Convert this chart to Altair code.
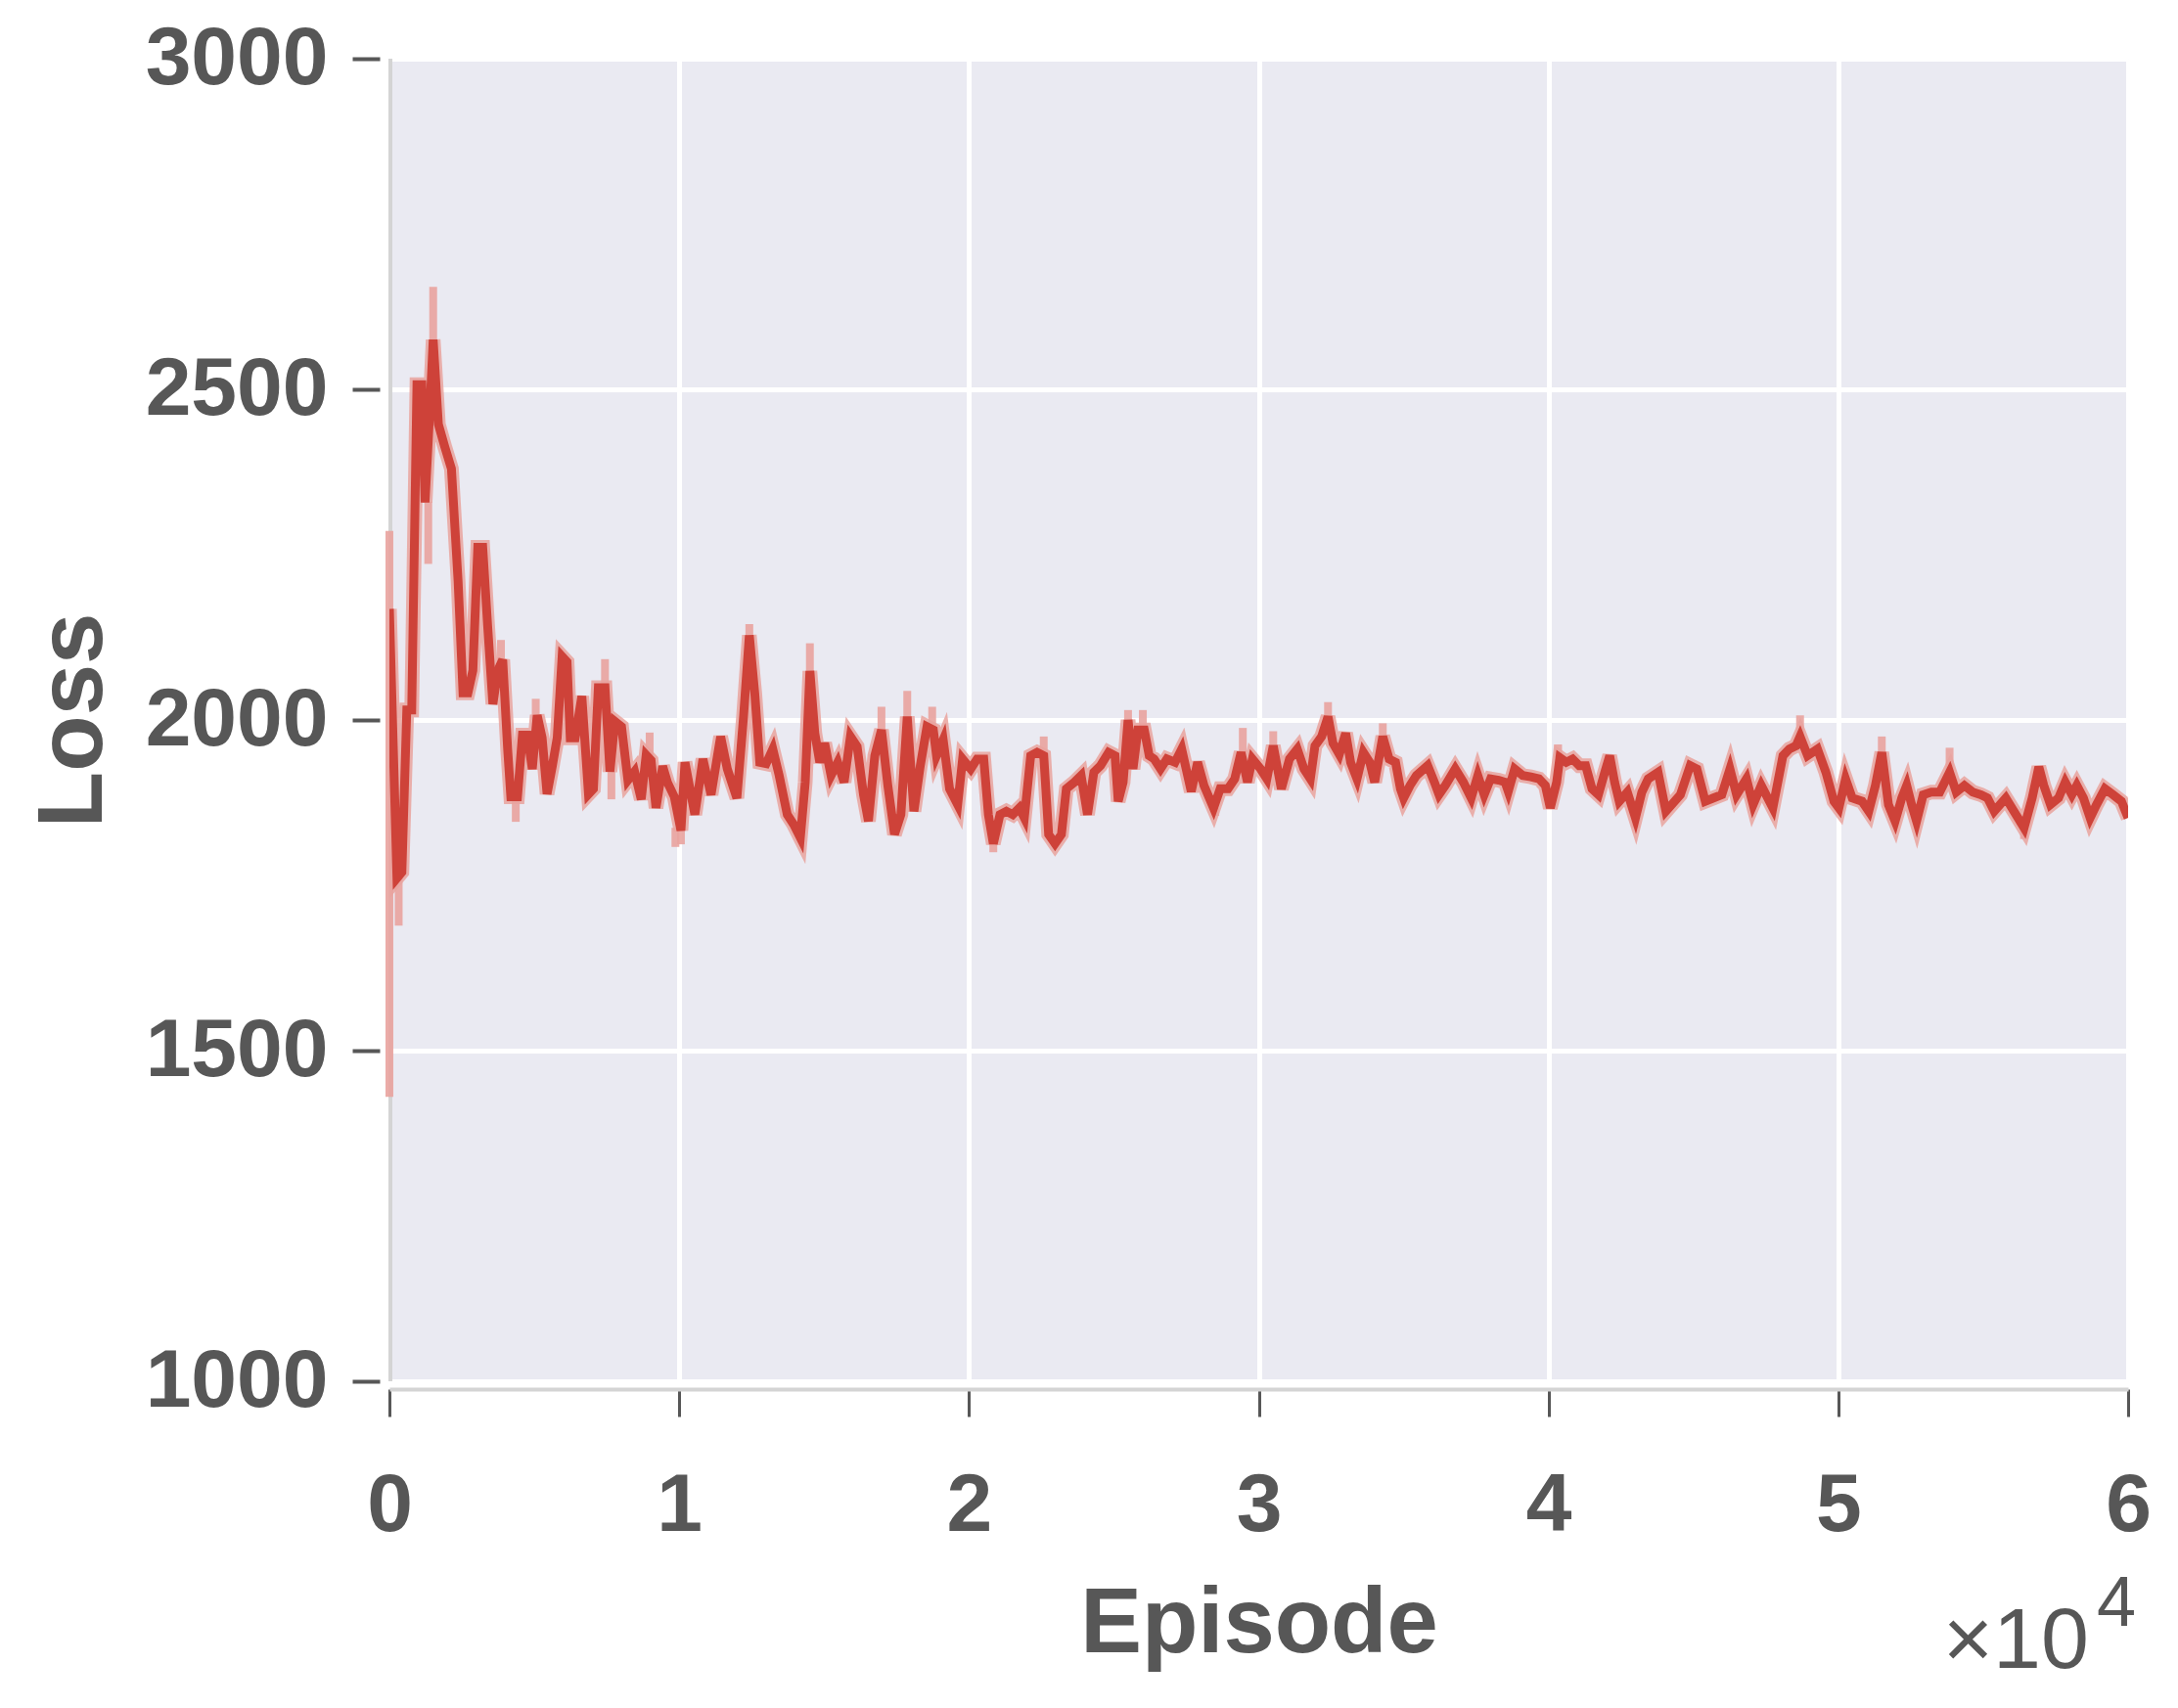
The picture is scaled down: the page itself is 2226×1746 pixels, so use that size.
import altair as alt
import pandas as pd

# ---- data ----
episode = [
    0, 260, 430, 600, 770, 950, 1120, 1230, 1400, 1510, 1690, 1910, 2140, 2370, 2540,
    2710, 2880, 3050, 3220, 3390, 3570, 3740, 3910, 4080, 4190, 4420, 4590, 4760, 4930, 5100,
    5270, 5440, 5620, 5790, 5960, 6130, 6240, 6410, 6640, 6870, 7040, 7210, 7440, 7610, 7780,
    8010, 8230, 8460, 8690, 8860, 9030, 9200, 9430, 9600, 9830, 10060,
    10200, 10540, 10820, 11100, 11430, 11660, 11990, 12220, 12420, 12610,
    12780, 13000, 13230, 13450, 13730, 13950, 14180, 14350, 14510, 14680,
    14850, 15020, 15240, 15470, 15690, 15910, 16140, 16360, 16530, 16750,
    16980, 17200, 17430, 17650, 17870, 18100, 18320, 18550, 18770, 18880,
    19110, 19330, 19610, 19780, 20060, 20280, 20510, 20670, 20840, 21070,
    21290, 21510, 21740, 21910, 22130, 22350, 22580, 22750, 22970, 23190,
    23360, 23640, 23870, 24090, 24310, 24540, 24820, 25040, 25150, 25320,
    25490, 25660, 25830, 26050, 26220, 26390, 26610, 26830, 27110, 27340,
    27670, 27890, 28110, 28440, 28670, 28940, 29170, 29390, 29610, 29780,
    30060, 30280, 30500, 30780, 31060, 31330, 31560, 31780, 31940, 32170,
    32390, 32560, 32780, 33000, 33170, 33390, 33610, 33830, 34000, 34280,
    34500, 34720, 34890, 35000, 35220, 35440, 35830, 36060, 36220, 36440,
    36780, 37060, 37330, 37560, 37780, 38000, 38280, 38500, 38610, 38830,
    39110, 39390, 39670, 39890, 40060, 40280, 40390, 40610, 40830, 41060,
    41280, 41500, 41720, 41940, 42110, 42280, 42440, 42720, 43000, 43220,
    43440, 43780, 44050,
    44550, 44890, 45120, 45410, 45690, 45980, 46260, 46490, 46830, 47060,
    47340, 47740, 48090, 48310, 48540, 48680, 48940, 49280, 49570, 49850,
    50020, 50250, 50480, 50820, 51050, 51280, 51500, 51730, 51960, 52190,
    52360, 52530, 52700, 52930, 53210, 53500, 53840, 54070, 54350, 54640,
    54920, 55150, 55380, 55780, 56060, 56410, 56690, 56920, 57090, 57320,
    57600, 57830, 58060, 58230, 58460, 58690, 58910, 59200, 59480, 59770,
    60000,
]
loss = [
    2168, 1761, 1770, 2015, 2015, 2507, 2507, 2329, 2473, 2575, 2447, 2413, 2380, 2210, 2041,
    2041, 2075, 2261, 2261, 2142, 2024, 2075, 2091, 1956, 1884, 1884, 1977, 1977, 1926, 2007,
    1973, 1888, 1930, 1973, 2096, 2088, 1973, 1973, 2036, 1888, 1896, 2049, 2049, 1922, 1998,
    1990, 1909, 1922, 1880, 1947, 1939, 1867, 1930, 1905, 1884, 1833,
    1936, 1857, 1941, 1887, 1975, 1926, 1882, 2005, 2128, 2039,
    1936, 1934, 1956, 1916, 1857, 1842, 1822, 1906, 2074, 1980,
    1936, 1965, 1916, 1936, 1906, 1975, 1960, 1887, 1847, 1946,
    1985, 1901, 1827, 1857, 2005, 1862, 1931, 1990, 1985, 1946,
    1970, 1896, 1872, 1941, 1926, 1941, 1941, 1857, 1813, 1857,
    1862, 1857, 1867, 1852, 1946, 1951, 1946, 1827, 1813, 1827,
    1896, 1906, 1916, 1857, 1921, 1931, 1951, 1946, 1877, 1906,
    2000, 1926, 1985, 1985, 1946, 1941, 1926, 1941, 1936, 1956,
    1892, 1936, 1901, 1867, 1896, 1896, 1911, 1951, 1906, 1941,
    1926, 1911, 1961, 1896, 1941, 1956, 1926, 1911, 1961, 1975,
    2005, 1965, 1948, 1980, 1936, 1911, 1951, 1936, 1906, 1975,
    1941, 1936, 1896, 1882, 1901, 1916, 1931, 1906, 1887, 1901,
    1926, 1906, 1882, 1916, 1887, 1911, 1909, 1906, 1892, 1926,
    1916, 1914, 1911, 1901, 1867, 1906, 1943, 1936, 1941, 1931,
    1931, 1896, 1887, 1921, 1946, 1906, 1877, 1891, 1852, 1891,
    1911, 1921, 1862,
    1887, 1931, 1926, 1877, 1882, 1887, 1926, 1887, 1911, 1872,
    1901, 1867, 1946, 1956, 1961, 1975, 1946, 1956, 1921, 1877,
    1867, 1911, 1882, 1877, 1862, 1901, 1951, 1872, 1847, 1882,
    1901, 1872, 1847, 1887, 1891, 1891, 1921, 1891, 1901, 1891,
    1887, 1882, 1862, 1882, 1862, 1837, 1882, 1929, 1901, 1872,
    1882, 1906, 1887, 1901, 1882, 1852, 1872, 1896, 1887, 1877,
    1852,
]

# lighter variance spikes around the mean line
spike_ep = [0, 320, 1340, 1510, 3850, 4360, 5050, 7440, 7660, 8980, 10060, 9870,
            12420, 14510, 16980, 17870, 18730, 20840, 22580, 25490, 26000, 28500,
            29450, 30500, 32390, 34280, 40330, 43000, 48680, 51500, 53840, 56410]
spike_lo = [1430, 1689, 2236, 2575, 2075, 1846, 2000, 2049, 1880, 1947, 1812, 1808,
            2128, 2074, 1985, 2005, 1985, 1800, 1946, 2000, 1985, 1855,
            1951, 1961, 2005, 1975, 1943, 1837, 1975, 1951, 1921, 1820]
spike_hi = [2286, 1761, 2330, 2655, 2121, 1884, 2032, 2092, 1922, 1981, 1833, 1837,
            2145, 2116, 2020, 2044, 2020, 1813, 1975, 2015, 2015, 1867,
            1988, 1983, 2027, 1995, 1963, 1852, 2007, 1975, 1958, 1837]

x_ticks = [0, 10000, 20000, 30000, 40000, 50000, 60000]
y_ticks = [1000, 1500, 2000, 2500, 3000]

assert len(episode) == len(loss)

df = pd.DataFrame({"Episode": episode, "Loss": loss})
sp = pd.DataFrame({"Episode": spike_ep, "lo": spike_lo, "hi": spike_hi})

W, H = 1777, 1352
FONT = "Liberation Sans"
TXT = "#575757"
DARK = "#CE4239"
LIGHT = "#E9A39E"
BG = "#EAEAF2"

x_axis = alt.Axis(
    values=x_ticks, labelExpr="datum.value / 10000", title="Episode",
    offset=8, domainColor="#D4D4D4", domainWidth=4,
    tickColor=TXT, tickWidth=3, tickSize=28,
    labelPadding=50, labelFont=FONT, labelFontSize=84, labelFontWeight="bold",
    labelColor=TXT, labelFlush=False, labelOverlap=False, labelLimit=0,
    grid=True, gridColor="white", gridWidth=5,
    titleFont=FONT, titleFontSize=94, titleFontWeight="bold", titleColor=TXT,
    titleBaseline="alphabetic", titleY=268, titleX=W / 2,
)
y_axis = alt.Axis(
    values=y_ticks, format="d", title="Loss", offset=10, domain=False,
    tickColor=TXT, tickWidth=4, tickSize=28,
    labelPadding=25, labelFont=FONT, labelFontSize=84, labelFontWeight="bold",
    labelColor=TXT, labelFlush=False, labelOverlap=False, labelLimit=0,
    grid=True, gridColor="white", gridWidth=5,
    titleFont=FONT, titleFontSize=94, titleFontWeight="bold", titleColor=TXT,
    titleAngle=-90, titleBaseline="middle", titleAlign="center",
    titleX=-313, titleY=H / 2,
)

xs = alt.Scale(domain=[0, 60000], nice=False, zero=False)
ys = alt.Scale(domain=[1000, 3000], nice=False, zero=False)

base = alt.Chart(df)

spine = alt.Chart(pd.DataFrame({"v": [0]})).mark_rule(
    color="#D4D4D4", strokeWidth=4
).encode(x=alt.value(1), y=alt.value(0), y2=alt.value(H))

under = base.mark_line(color=LIGHT, strokeWidth=15, opacity=0.85, clip=True).encode(
    x=alt.X("Episode:Q", scale=xs, axis=x_axis),
    y=alt.Y("Loss:Q", scale=ys, axis=y_axis),
)

spikes = alt.Chart(sp).mark_rule(color=LIGHT, strokeWidth=8, opacity=0.9).encode(
    x=alt.X("Episode:Q", scale=xs, axis=x_axis),
    y=alt.Y("lo:Q", scale=ys, axis=y_axis),
    y2="hi:Q",
)

line = base.mark_line(color=DARK, strokeWidth=9, clip=True).encode(
    x=alt.X("Episode:Q", scale=xs, axis=x_axis),
    y=alt.Y("Loss:Q", scale=ys, axis=y_axis),
)

ten = alt.Chart(pd.DataFrame({"t": ["×10"]})).mark_text(
    align="right", baseline="alphabetic", font=FONT, fontSize=88, color=TXT
).encode(text="t:N", x=alt.value(1737), y=alt.value(1645))

sup = alt.Chart(pd.DataFrame({"t": ["4"]})).mark_text(
    align="left", baseline="alphabetic", font=FONT, fontSize=72, color=TXT
).encode(text="t:N", x=alt.value(1745), y=alt.value(1602))

chart = alt.layer(spine, under, spikes, line, ten, sup).properties(
    width=W, height=H,
    autosize=alt.AutoSizeParams(type="none"),
    padding={"left": 390, "top": 52, "right": 40, "bottom": 320},
    background="white",
).configure_view(fill=BG, stroke="transparent")

chart.save("out.html", embed_options={"renderer": "svg", "actions": False})
